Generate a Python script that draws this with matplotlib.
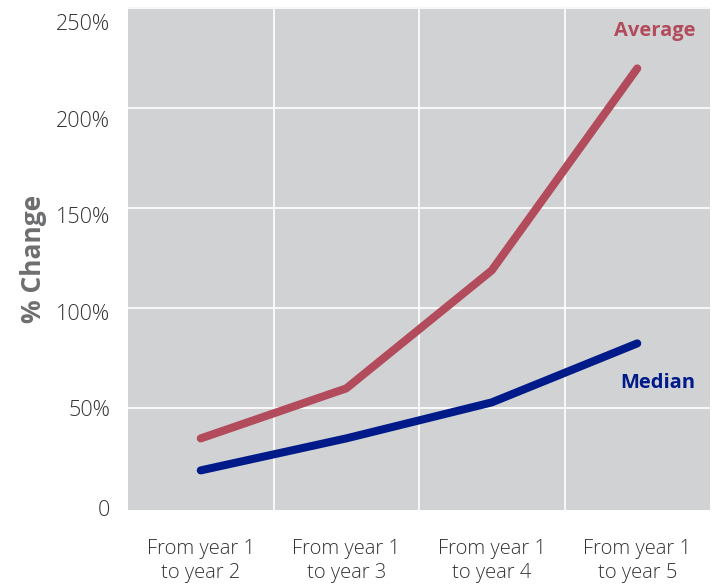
import numpy as np
import matplotlib.pyplot as plt
from matplotlib.transforms import ScaledTranslation

# ---------- Data ----------
categories = ["From year 1\nto year 2", "From year 1\nto year 3",
              "From year 1\nto year 4", "From year 1\nto year 5"]
average = [35, 60, 119, 220]
median = [19, 35, 53, 82.5]
y_ticks = [0, 50, 100, 150, 200, 250]
y_labels = ["0", "50%", "100%", "150%", "200%", "250%"]

# ---------- Style ----------
BG = "#d1d2d4"
AVG_COLOR = "#b24b5b"
MED_COLOR = "#001a8a"
TEXT = "#333333"
FONT = ["Open Sans", "DejaVu Sans"]

plt.rcParams["font.family"] = FONT

fig = plt.figure(figsize=(7.15, 5.84), dpi=100)
ax = fig.add_axes([128 / 715, (584 - 510) / 584, 582 / 715, 503 / 584])
ax.set_facecolor(BG)

x = np.arange(len(categories))
ax.plot(x, average, color=AVG_COLOR, lw=5.8, solid_capstyle="round",
        solid_joinstyle="round", zorder=3)
ax.plot(x, median, color=MED_COLOR, lw=5.8, solid_capstyle="round",
        solid_joinstyle="round", zorder=3)

ax.set_xlim(-0.5, len(categories) - 0.5)
ax.set_ylim(-0.8, 250.7)

# gridlines: horizontal at ticks, vertical between categories
for yv in y_ticks[1:]:
    ax.axhline(yv, color="white", lw=1.2, zorder=1)
for xv in x[:-1] + 0.5:
    ax.axvline(xv, color="white", lw=1.2, zorder=1)

ax.set_yticks(y_ticks)
ax.set_yticklabels(y_labels, fontsize=15.5, color=TEXT, fontweight="light")
ax.set_xticks(x)
ax.set_xticklabels(categories, fontsize=14.5, color=TEXT, fontweight="light",
                   linespacing=1.25)
ax.tick_params(length=0)
ax.tick_params(axis="y", pad=13)
ax.tick_params(axis="x", pad=21)
for s in ax.spines.values():
    s.set_visible(False)

# the source's upper y labels sit a little below their gridlines
for v, lab in zip(y_ticks, ax.get_yticklabels()):
    dy = max(0, v - 50) / 200 * 14 / 100
    lab.set_transform(lab.get_transform() + ScaledTranslation(0, -dy, fig.dpi_scale_trans))

ax.set_ylabel("% Change", fontsize=19, fontweight="bold", color="#6d6e70",
              labelpad=6)

ax.text(3.12, 238.5, "Average", color=AVG_COLOR, fontsize=14.5, fontweight="bold",
        ha="center", va="center")
ax.text(3.14, 62.5, "Median", color=MED_COLOR, fontsize=14.5, fontweight="bold",
        ha="center", va="center")

fig.savefig("out.png", dpi=100, facecolor="white")
